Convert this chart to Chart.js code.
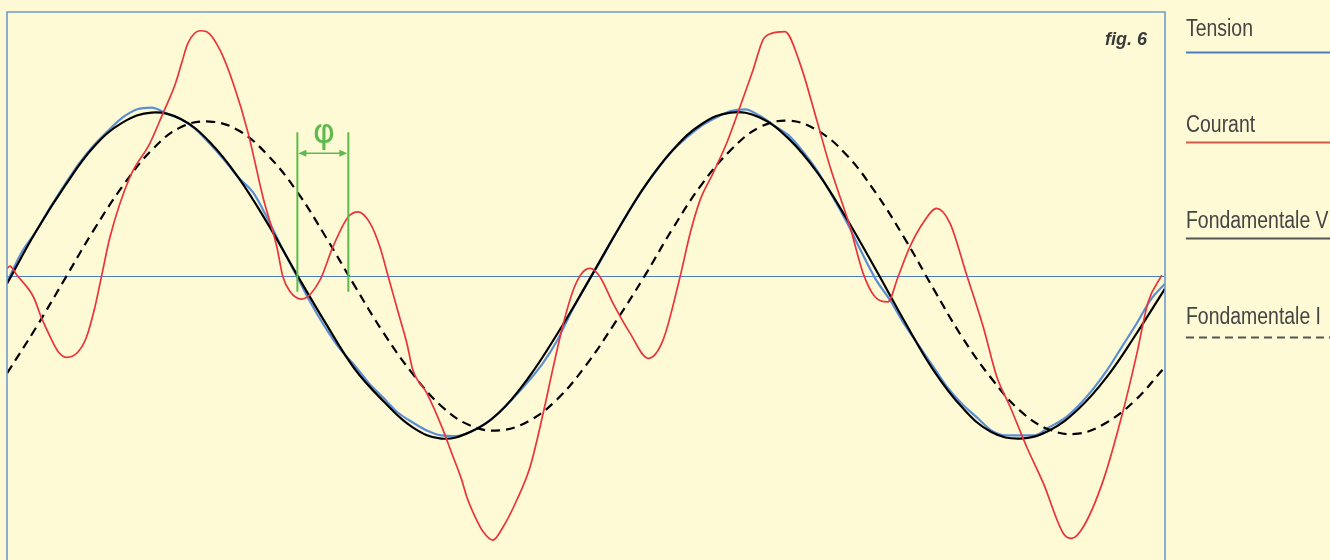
<!DOCTYPE html>
<html><head><meta charset="utf-8">
<script src="https://cdn.jsdelivr.net/npm/chart.js@4.4.1/dist/chart.umd.min.js"></script>
<style>
html,body{margin:0;padding:0;background:#FFFAD6;overflow:hidden}
#wrap{position:relative;width:1330px;height:560px}
#wrap canvas{position:absolute;left:0;top:0}
#ov{position:absolute;left:0;top:0;pointer-events:none}
</style></head><body>
<div id="wrap"><canvas id="c" width="1330" height="560"></canvas><svg id="ov" width="1330" height="560" xmlns="http://www.w3.org/2000/svg"></svg></div>
<script>
// ---- data (time in ms, values in % of the fundamental voltage amplitude) ----
const seriesLabels = ['Tension', 'Courant', 'Fondamentale V', 'Fondamentale I'];
const figLabel = 'fig. 6';
const phiLabel = 'φ';

const timeMs = [0,1,2,3,4,5,6,7,8,9,10,11,12,13,14,15,16,17,18,19,20,21,22,23,24,25,26,27,28,29,30,31,32,33,34,35,36,37,38,39,40];
const fundV = [-5,27,55,79,94,100,96,82,60,32,1,-29,-57,-77,-93,-100,-96,-84,-63,-36,-6,25,54,77,93,100,97,84,63,35,4,-28,-58,-81,-96,-100,-95,-82,-62,-36,-8];
const fundI = [-60,-32,-2,28,55,77,91,94.5,89,74,52,24,-6,-35,-60,-80,-92,-95,-89.5,-76,-55,-29,-1,29,56,77,91,95,89,74,51,23,-8,-38,-63,-83,-94.5,-97,-90,-76,-56];

const tensionT = [0,0.5,1,1.5,2,2.5,3,3.5,4,4.5,5,5.5,6,6.5,7,7.5,8,8.5,9,9.5,10,10.5,11,11.5,12,12.5,13,13.5,14,14.5,15,15.5,16,16.5,17,17.5,18,18.5,19,19.5,20,20.5,21,21.5,22,22.5,23,23.5,24,24.5,25,25.5,26,26.5,27,27.5,28,28.5,29,29.5,30,30.5,31,31.5,32,32.5,33,33.5,34,34.5,35,35.5,36,36.5,37,37.5,38,38.5,39,39.5,40];
const tensionV = [-4,14,27,42,56,69,80,89,97,102,103,99.5,96,90,81,71,60,51,35,17,0,-17,-32,-45,-55,-66,-75,-84,-90,-95,-98,-98.5,-96,-91,-84,-75,-65,-54,-40,-22,-6,9,25,40,54,66,77,85,92,97,101,102,98,92,86,76,64,49,33,15,-2,-15,-30,-43,-56,-69,-79,-87,-95,-98,-98,-98,-93,-88,-80,-70,-58,-44,-30,-15,-5];

const courantT = [0,0.10,0.34,0.91,1.20,1.49,1.77,2.06,2.46,2.75,3.04,3.27,3.56,4.25,4.94,5.39,5.80,6.03,6.25,6.67,6.90,7.36,7.81,8.33,8.84,9.32,9.53,9.78,10.18,10.81,11.26,11.79,12.13,12.54,12.88,13.17,13.52,13.81,14.02,14.50,15.02,15.36,15.71,15.88,16.17,16.45,16.78,17.14,17.61,18.07,18.52,18.87,19.22,19.56,19.85,20.14,20.48,20.93,21.52,22.15,22.66,23.25,23.60,23.94,24.39,24.86,25.32,25.77,26.11,26.41,26.87,27.39,27.97,28.43,29.12,29.57,29.98,30.43,30.78,31.19,31.64,32.11,32.57,33.15,33.72,34.19,34.65,35.22,35.80,36.49,36.78,37.18,37.87,38.56,39.03,39.42,39.89];
const courantV = [4.4,5.8,0.3,-13.0,-26.3,-37.5,-46.7,-50.2,-46.7,-37.5,-19.1,0,23.8,60.6,81.3,99.7,116.9,130.2,142.6,150.2,149.6,138.3,118.1,87.4,48.2,17.7,-0.7,-9.9,-14.4,-2.8,17.7,36.1,39.1,32.2,17.7,-0.7,-23.0,-41.4,-58.0,-72.1,-92.8,-108.9,-125.5,-135.7,-148.0,-157.2,-162.3,-154.1,-137.7,-117.3,-84.5,-56.0,-29.3,-8.9,1.3,4.4,-0.7,-16.9,-35.3,-50.8,-39.6,-0.7,26.1,46.3,62.9,81.3,103.6,126.1,144.5,148.6,149.6,130.2,95.4,66.7,29.9,1.5,-13.0,-16.1,-0.7,17.7,32.2,41.2,32.2,0.3,-31.4,-62.1,-80.5,-105.0,-127.5,-158.2,-161.2,-154.1,-125.5,-82.5,-47.7,-16.1,0.3];

// phase marker: zero crossings of V and I fundamentals (ms), and its vertical extent / arrow level (value units)
const phiTimes = [10.03, 11.79];
const phiRange = [-10, 88];
const phiArrowLevel = 75;

// ---- styles ----
const BG = '#FFFAD6';
const lineColors = ['#5b8fd3', '#e8343a', '#000000', '#000000'];
const legendColors = ['#4a7cc2', '#d35a48', '#555555', '#555555'];
const GREEN = '#5dbb4e';

const pts = (xs, ys) => xs.map((x, i) => ({x: x, y: ys[i]}));

const bgPlugin = {
  id: 'bg',
  beforeDraw(c) {
    const ctx = c.ctx; ctx.save(); ctx.fillStyle = BG; ctx.fillRect(0, 0, c.width, c.height); ctx.restore();
  }
};

const framePlugin = {
  id: 'frame',
  beforeDatasetsDraw(c) {
    const {ctx, chartArea: a, scales: {y}} = c;
    const y0 = Math.round(y.getPixelForValue(0)) + 0.5;
    ctx.save();
    ctx.strokeStyle = '#4a7cc0'; ctx.lineWidth = 1;
    ctx.beginPath(); ctx.moveTo(a.left, y0); ctx.lineTo(a.right, y0); ctx.stroke();
    ctx.restore();
  },
  afterDatasetsDraw(c) {
    const {ctx, chartArea: a, scales: {x, y}} = c;
    ctx.save();
    ctx.strokeStyle = '#6f9bcd'; ctx.lineWidth = 1.6;
    ctx.beginPath();
    ctx.moveTo(a.left, a.bottom + 2); ctx.lineTo(a.left, a.top); ctx.lineTo(a.right, a.top); ctx.lineTo(a.right, a.bottom + 2);
    ctx.stroke();
    // phase marker
    const x1 = x.getPixelForValue(phiTimes[0]), x2 = x.getPixelForValue(phiTimes[1]);
    const yt = y.getPixelForValue(phiRange[1]), yb = y.getPixelForValue(phiRange[0]);
    const ya = y.getPixelForValue(phiArrowLevel);
    ctx.strokeStyle = GREEN; ctx.fillStyle = GREEN; ctx.lineWidth = 2;
    ctx.beginPath();
    ctx.moveTo(x1, yt); ctx.lineTo(x1, yb);
    ctx.moveTo(x2, yt); ctx.lineTo(x2, yb);
    ctx.stroke();
    ctx.lineWidth = 1.5;
    ctx.beginPath(); ctx.moveTo(x1 + 5, ya); ctx.lineTo(x2 - 5, ya); ctx.stroke();
    ctx.beginPath(); ctx.moveTo(x1 + 1, ya); ctx.lineTo(x1 + 9, ya - 3.5); ctx.lineTo(x1 + 9, ya + 3.5); ctx.closePath(); ctx.fill();
    ctx.beginPath(); ctx.moveTo(x2 - 1, ya); ctx.lineTo(x2 - 9, ya - 3.5); ctx.lineTo(x2 - 9, ya + 3.5); ctx.closePath(); ctx.fill();
    ctx.restore();
  }
};

const chart = new Chart(document.getElementById('c'), {
  type: 'line',
  data: {
    datasets: [
      {label: seriesLabels[0], data: pts(tensionT, tensionV), borderColor: lineColors[0], borderWidth: 2.2, pointRadius: 0, cubicInterpolationMode: 'monotone', order: 3},
      {label: seriesLabels[1], data: pts(courantT, courantV), borderColor: lineColors[1], borderWidth: 1.7, pointRadius: 0, cubicInterpolationMode: 'monotone', order: 0},
      {label: seriesLabels[2], data: pts(timeMs, fundV), borderColor: lineColors[2], borderWidth: 2.2, pointRadius: 0, tension: 0.4, order: 1},
      {label: seriesLabels[3], data: pts(timeMs, fundI), borderColor: lineColors[3], borderWidth: 2.2, borderDash: [9, 6], pointRadius: 0, tension: 0.4, order: 2}
    ]
  },
  options: {
    responsive: false,
    animation: false,
    events: [],
    layout: {padding: {left: 7, right: 165, top: 12, bottom: 0}},
    scales: {
      x: {type: 'linear', min: 0, max: 40, display: false},
      y: {type: 'linear', min: -174.5, max: 161.7, display: false}
    },
    plugins: {legend: {display: false}, tooltip: {enabled: false}}
  },
  plugins: [bgPlugin, framePlugin]
});

// ---- text overlay (legend, figure label, phi) ----
const svg = document.getElementById('ov');
const NS = 'http://www.w3.org/2000/svg';
function el(tag, attrs, text) {
  const e = document.createElementNS(NS, tag);
  for (const k in attrs) e.setAttribute(k, attrs[k]);
  if (text !== undefined) e.textContent = text;
  svg.appendChild(e);
  return e;
}
const legendX = 1186;
const legendBaselines = [36, 132, 228, 323.5];
const legendLineYs = [52.5, 142.5, 238.5, 337.5];
const legendFont = '"Liberation Sans", Arial, sans-serif';
const narrow = 0.81;
seriesLabels.forEach((lab, i) => {
  el('text', {x: 0, y: 0, transform: `translate(${legendX},${legendBaselines[i]}) scale(${narrow},1)`, 'font-family': legendFont, 'font-size': 24, fill: '#444444'}, lab);
  const ln = {x1: legendX, x2: 1335, y1: legendLineYs[i], y2: legendLineYs[i], stroke: legendColors[i], 'stroke-width': 2.2};
  if (i === 3) ln['stroke-dasharray'] = '8 5';
  el('line', ln);
});
const area = chart.chartArea;
el('text', {x: area.right - 18, y: 45, 'text-anchor': 'end', 'font-family': '"Liberation Sans", Arial, sans-serif', 'font-size': 18, 'font-weight': 'bold', 'font-style': 'italic', fill: '#3a3a3a'}, figLabel);
const px1 = chart.scales.x.getPixelForValue(phiTimes[0]);
const px2 = chart.scales.x.getPixelForValue(phiTimes[1]);
const pya = chart.scales.y.getPixelForValue(phiArrowLevel);
el('text', {x: (px1 + px2) / 2 + 1, y: pya - 10, 'text-anchor': 'middle', 'font-family': '"DejaVu Sans", sans-serif', 'font-size': 34, fill: GREEN}, phiLabel);
</script>
</body></html>
